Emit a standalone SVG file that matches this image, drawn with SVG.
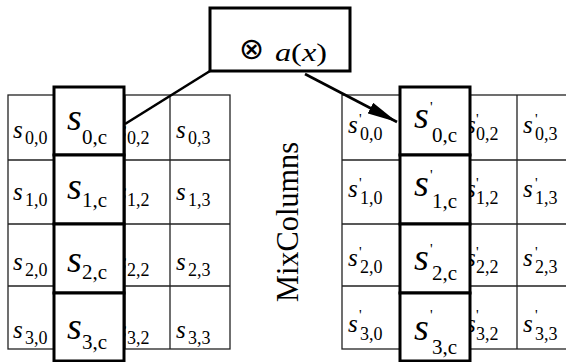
<svg xmlns="http://www.w3.org/2000/svg" width="566" height="362" viewBox="0 0 566 362">
<style>
.grid{fill:none;stroke:#222;stroke-width:1.3}
.thick{fill:#fff;stroke:#000;stroke-width:3}
.conn{fill:none;stroke:#000;stroke-width:2.6}
text{font-family:"Liberation Serif","Times New Roman",serif;fill:#000}
.s{font-style:italic;font-size:25px}
.S{font-style:italic;font-size:38px}
.sub{font-size:18px}
.subc{font-size:21px}
.pr{font-size:15px}
</style>
<defs>
<marker id="ah" viewBox="0 0 30 12" refX="30" refY="6" markerWidth="30" markerHeight="12" markerUnits="userSpaceOnUse" orient="auto">
<path d="M0,0 L30,6 L0,12 Z" fill="#000"/>
</marker>
</defs>
<rect width="566" height="362" fill="#fff"/>

<g id="left-state">
<rect class="grid" x="8" y="95" width="222" height="254"/>
<path class="grid" d="M54,95V349M125,95V349M170,95V349M8,160H230M8,224H230M8,286H230"/>
<text class="s" x="13" y="138">s</text><text class="sub" x="25" y="144">0,0</text>
<text class="s" x="13" y="200">s</text><text class="sub" x="25" y="206">1,0</text>
<text class="s" x="13" y="270">s</text><text class="sub" x="25" y="276">2,0</text>
<text class="s" x="13" y="338">s</text><text class="sub" x="25" y="344">3,0</text>
<text class="s" x="117" y="138">s</text><text class="sub" x="127" y="144">0,2</text>
<text class="s" x="117" y="200">s</text><text class="sub" x="127" y="206">1,2</text>
<text class="s" x="117" y="270">s</text><text class="sub" x="127" y="276">2,2</text>
<text class="s" x="117" y="338">s</text><text class="sub" x="127" y="344">3,2</text>
<text class="s" x="176" y="138">s</text><text class="sub" x="188" y="144">0,3</text>
<text class="s" x="176" y="200">s</text><text class="sub" x="188" y="206">1,3</text>
<text class="s" x="176" y="270">s</text><text class="sub" x="188" y="276">2,3</text>
<text class="s" x="176" y="338">s</text><text class="sub" x="188" y="344">3,3</text>
</g>

<g id="left-column">
<rect class="thick" x="54" y="87" width="70" height="68"/>
<rect class="thick" x="54" y="155" width="70" height="69"/>
<rect class="thick" x="54" y="224" width="70" height="69"/>
<rect class="thick" x="54" y="293" width="70" height="68"/>
<text class="S" x="67" y="130">s</text><text class="subc" x="82" y="144">0,c</text>
<text class="S" x="67" y="199">s</text><text class="subc" x="82" y="207">1,c</text>
<text class="S" x="67" y="272">s</text><text class="subc" x="82" y="279">2,c</text>
<text class="S" x="67" y="339">s</text><text class="subc" x="82" y="349">3,c</text>
</g>

<g id="right-state">
<rect class="grid" x="342" y="95" width="240" height="254"/>
<path class="grid" d="M400,95V349M470,95V349M517,95V349M342,160H582M342,224H582M342,286H582"/>
<text class="s" x="348" y="133">s</text><text class="pr" x="359" y="124">'</text><text class="sub" x="360" y="140">0,0</text>
<text class="s" x="348" y="197">s</text><text class="pr" x="359" y="188">'</text><text class="sub" x="360" y="204">1,0</text>
<text class="s" x="348" y="266">s</text><text class="pr" x="359" y="257">'</text><text class="sub" x="360" y="273">2,0</text>
<text class="s" x="348" y="332">s</text><text class="pr" x="359" y="320">'</text><text class="sub" x="360" y="340">3,0</text>
<text class="s" x="466" y="133">s</text><text class="pr" x="476" y="124">'</text><text class="sub" x="476" y="140">0,2</text>
<text class="s" x="466" y="197">s</text><text class="pr" x="476" y="188">'</text><text class="sub" x="476" y="204">1,2</text>
<text class="s" x="466" y="266">s</text><text class="pr" x="476" y="257">'</text><text class="sub" x="476" y="273">2,2</text>
<text class="s" x="466" y="332">s</text><text class="pr" x="476" y="320">'</text><text class="sub" x="476" y="340">3,2</text>
<text class="s" x="523" y="133">s</text><text class="pr" x="535" y="124">'</text><text class="sub" x="535" y="140">0,3</text>
<text class="s" x="523" y="197">s</text><text class="pr" x="535" y="188">'</text><text class="sub" x="535" y="204">1,3</text>
<text class="s" x="523" y="266">s</text><text class="pr" x="535" y="257">'</text><text class="sub" x="535" y="273">2,3</text>
<text class="s" x="523" y="332">s</text><text class="pr" x="535" y="320">'</text><text class="sub" x="535" y="340">3,3</text>
</g>

<g id="right-column">
<rect class="thick" x="400" y="87" width="70" height="68"/>
<rect class="thick" x="400" y="155" width="70" height="69"/>
<rect class="thick" x="400" y="224" width="70" height="69"/>
<rect class="thick" x="400" y="293" width="70" height="68"/>
<text class="S" x="414" y="128">s</text><text class="pr" x="430" y="112">'</text><text class="subc" x="432" y="142">0,c</text>
<text class="S" x="414" y="196">s</text><text class="pr" x="430" y="180">'</text><text class="subc" x="432" y="208">1,c</text>
<text class="S" x="414" y="270">s</text><text class="pr" x="430" y="254">'</text><text class="subc" x="432" y="280">2,c</text>
<text class="S" x="414" y="340">s</text><text class="pr" x="430" y="320">'</text><text class="subc" x="432" y="354">3,c</text>
</g>

<g id="op-box">
<rect class="thick" x="210" y="8" width="140" height="63"/>
<text x="239" y="59" style="font-family:'DejaVu Sans',sans-serif;font-size:30px">⊗</text>
<text x="275" y="61" style="font-size:26px" textLength="52" lengthAdjust="spacingAndGlyphs"><tspan font-style="italic">a</tspan>(<tspan font-style="italic">x</tspan>)</text>
</g>

<g id="label">
<text transform="translate(298,222) rotate(-90)" text-anchor="middle" style="font-size:31px" textLength="160" lengthAdjust="spacingAndGlyphs">MixColumns</text>
</g>

<g id="connectors">
<path class="conn" d="M210,71 L125,124"/>
<path class="conn" d="M305,74 L397,122" marker-end="url(#ah)"/>
</g>
</svg>
